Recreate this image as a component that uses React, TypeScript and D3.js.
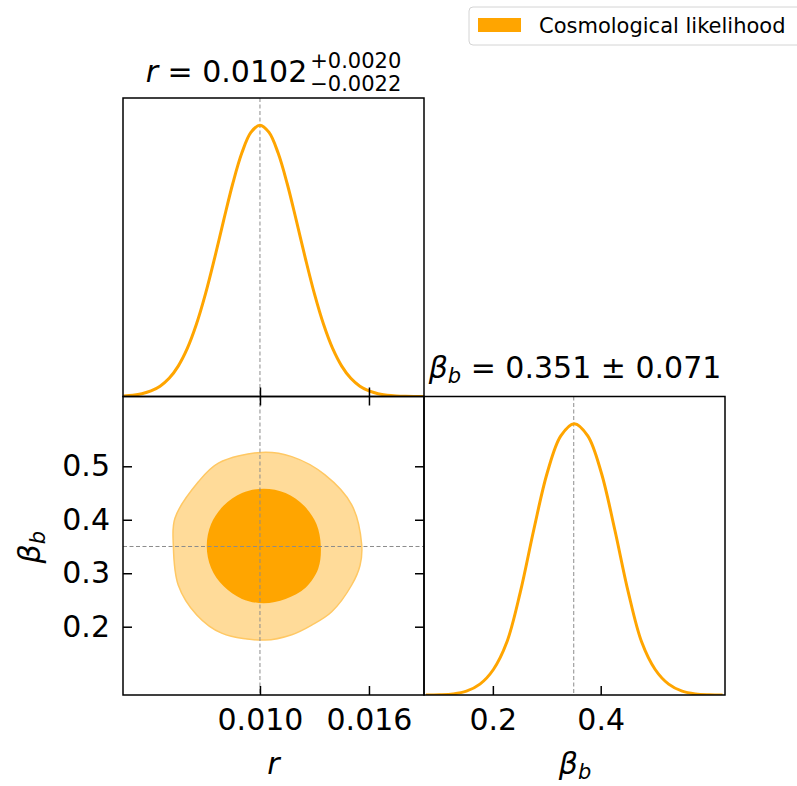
import React, { useEffect, useRef } from 'react';
import * as d3 from 'd3';

const WIDTH = 797;
const HEIGHT = 786;

// marginal of r (peak normalised to 1)
const rGrid = [0.0025, 0.0030, 0.0035, 0.0040, 0.0045, 0.0050, 0.0055, 0.0060, 0.0065, 0.0070, 0.0075,
  0.0080, 0.0085, 0.0090, 0.0095, 0.0100, 0.0105, 0.0110, 0.0115, 0.0120, 0.0125, 0.0130, 0.0135,
  0.0140, 0.0145, 0.0150, 0.0155, 0.0160, 0.0165, 0.0170, 0.0175, 0.0180, 0.0185, 0.0190];
const rDensity = [0.0023, 0.0050, 0.0104, 0.0204, 0.0379, 0.0669, 0.112, 0.177, 0.266, 0.378, 0.509,
  0.649, 0.784, 0.897, 0.973, 1.0, 0.973, 0.897, 0.784, 0.649, 0.509, 0.378, 0.266,
  0.177, 0.112, 0.0669, 0.0379, 0.0204, 0.0104, 0.0050, 0.0023, 0.0010, 0.0004, 0.0001];

// marginal of beta_b
const betaGrid = [0.076, 0.101, 0.126, 0.151, 0.176, 0.201, 0.226, 0.251, 0.276, 0.301, 0.326, 0.351,
  0.376, 0.401, 0.426, 0.451, 0.476, 0.501, 0.526, 0.551, 0.576, 0.601, 0.626];
const betaDensity = [0.0002, 0.001, 0.004, 0.014, 0.040, 0.094, 0.195, 0.38, 0.61, 0.82, 0.955, 1.0,
  0.955, 0.82, 0.61, 0.38, 0.195, 0.094, 0.040, 0.014, 0.004, 0.001, 0.0002];

// 2D contours (r, beta_b)
const inner68R = [0.01335, 0.01311, 0.01243, 0.01141, 0.01021, 0.00901, 0.00799, 0.00731,
  0.00707, 0.00731, 0.00799, 0.00901, 0.01021, 0.01141, 0.01251, 0.01321];
const inner68Beta = [0.351, 0.392, 0.426, 0.450, 0.458, 0.450, 0.426, 0.392,
  0.351, 0.310, 0.276, 0.252, 0.244, 0.252, 0.273, 0.309];
const outer95R = [0.01010, 0.01175, 0.01358, 0.01505, 0.01560, 0.01551, 0.01505, 0.01395, 0.01285,
  0.01175, 0.01028, 0.00789, 0.00652, 0.00550, 0.00523, 0.00532, 0.00661, 0.00771];
const outer95Beta = [0.526, 0.518, 0.484, 0.428, 0.353, 0.315, 0.278, 0.228, 0.203,
  0.185, 0.175, 0.188, 0.222, 0.278, 0.353, 0.403, 0.471, 0.506];

const truthR = 0.010;
const truthBeta = 0.35;

const rTicks = [0.010, 0.016];
const rTickLabels = ['0.010', '0.016'];
const betaYTicks = [0.2, 0.3, 0.4, 0.5];
const betaYTickLabels = ['0.2', '0.3', '0.4', '0.5'];
const betaXTicks = [0.2, 0.4];
const betaXTickLabels = ['0.2', '0.4'];

const rRange = [0.00246, 0.01903];
const betaRange = [0.0723, 0.6305];

const rTitle = ['0.0102', '+0.0020', '\u22120.0022'];
const betaTitle = '0.351 \u00b1 0.071';
const legendLabels = ['Cosmological likelihood'];

const CornerPlot = () => {
  const ref = useRef<SVGSVGElement>(null);

  useEffect(() => {
    const svg = d3.select(ref.current);
    svg.selectAll('*').remove();

    const font = "'DejaVu Sans', sans-serif";
    const orange = '#FFA500';
    const left = 123, top = 98, pw = 301, ph = 298.5;

    const xr = d3.scaleLinear().domain(rRange).range([0, pw]);
    const xb = d3.scaleLinear().domain(betaRange).range([0, pw]);
    const yb = d3.scaleLinear().domain(betaRange).range([ph, 0]);
    const yd = d3.scaleLinear().domain([0, 1.1]).range([ph, 0]);

    svg.append('defs').append('clipPath').attr('id', 'panel-clip')
      .append('rect').attr('width', pw).attr('height', ph);

    const panel = (x: number, y: number) => svg.append('g').attr('transform', `translate(${x},${y})`);
    const pR = panel(left, top);
    const pRB = panel(left, top + ph);
    const pB = panel(left + pw, top + ph);

    const dash = (g: any, x1: number, y1: number, x2: number, y2: number) =>
      g.append('line').attr('x1', x1).attr('y1', y1).attr('x2', x2).attr('y2', y2)
        .attr('stroke', '#8c8c8c').attr('stroke-width', 1).attr('stroke-dasharray', '4,2.5');

    // 1D marginals
    const curve = (xs: any) => d3.line<number[]>().x(d => xs(d[0])).y(d => yd(d[1]))
      .curve(d3.curveCatmullRom.alpha(0.5));
    const rPts = rGrid.map((r, i) => [r, rDensity[i]]);
    const bPts = betaGrid.map((b, i) => [b, betaDensity[i]]);
    dash(pR, xr(truthR), 0, xr(truthR), ph);
    pR.append('g').attr('clip-path', 'url(#panel-clip)').append('path')
      .attr('d', curve(xr)(rPts)).attr('fill', 'none').attr('stroke', orange).attr('stroke-width', 3);
    dash(pB, xb(truthBeta), 0, xb(truthBeta), ph);
    pB.append('g').attr('clip-path', 'url(#panel-clip)').append('path')
      .attr('d', curve(xb)(bPts)).attr('fill', 'none').attr('stroke', orange).attr('stroke-width', 3);

    // 2D contours
    const closed = d3.line().curve(d3.curveCatmullRomClosed.alpha(0.5));
    const outerPts = outer95R.map((r, i) => [xr(r), yb(outer95Beta[i])] as [number, number]);
    const innerPts = inner68R.map((r, i) => [xr(r), yb(inner68Beta[i])] as [number, number]);
    const cg = pRB.append('g').attr('clip-path', 'url(#panel-clip)');
    cg.append('path').attr('d', closed(outerPts)).attr('fill', '#FFDB99')
      .attr('stroke', '#FFC864').attr('stroke-width', 1.5);
    cg.append('path').attr('d', closed(innerPts)).attr('fill', orange);
    dash(pRB, xr(truthR), 0, xr(truthR), ph);
    dash(pRB, 0, yb(truthBeta), pw, yb(truthBeta));

    // axes, ticks pointing inwards
    const styleAxis = (g: any) => {
      g.attr('font-size', 30).attr('font-family', font);
      g.select('.domain').remove();
      g.selectAll('line').attr('stroke', '#000').attr('stroke-width', 1.5);
      g.selectAll('text').attr('fill', '#000');
    };
    const none = () => '';

    pR.append('g').attr('transform', `translate(0,${ph})`)
      .call(d3.axisBottom(xr).tickValues(rTicks).tickFormat(none).tickSizeInner(-9).tickSizeOuter(0))
      .call(styleAxis);

    pRB.append('g').attr('transform', `translate(0,${ph})`)
      .call(d3.axisBottom(xr).tickValues(rTicks).tickFormat((d, i) => rTickLabels[i])
        .tickSizeInner(-9).tickSizeOuter(0).tickPadding(14))
      .call(styleAxis);
    pRB.append('g')
      .call(d3.axisTop(xr).tickValues(rTicks).tickFormat(none).tickSizeInner(-9).tickSizeOuter(0))
      .call(styleAxis);
    pRB.append('g')
      .call(d3.axisLeft(yb).tickValues(betaYTicks).tickFormat((d, i) => betaYTickLabels[i])
        .tickSizeInner(-9).tickSizeOuter(0).tickPadding(13))
      .call(styleAxis);
    pRB.append('g').attr('transform', `translate(${pw},0)`)
      .call(d3.axisRight(yb).tickValues(betaYTicks).tickFormat(none).tickSizeInner(-9).tickSizeOuter(0))
      .call(styleAxis);

    pB.append('g').attr('transform', `translate(0,${ph})`)
      .call(d3.axisBottom(xb).tickValues(betaXTicks).tickFormat((d, i) => betaXTickLabels[i])
        .tickSizeInner(-9).tickSizeOuter(0).tickPadding(14))
      .call(styleAxis);

    [pR, pRB, pB].forEach(p => p.append('rect').attr('width', pw).attr('height', ph)
      .attr('fill', 'none').attr('stroke', '#000').attr('stroke-width', 1.5));

    // titles
    const t1 = svg.append('g').attr('font-family', font).attr('fill', '#000');
    const m1 = t1.append('text').attr('font-size', 30);
    m1.append('tspan').attr('font-style', 'italic').text('r');
    m1.append('tspan').text(` = ${rTitle[0]}`);
    const w1 = (m1.node() as SVGTextElement).getComputedTextLength();
    t1.append('text').attr('x', w1 + 3).attr('y', -14).attr('font-size', 21).text(rTitle[1]);
    t1.append('text').attr('x', w1 + 3).attr('y', 9).attr('font-size', 21).text(rTitle[2]);
    const bb1 = (t1.node() as SVGGElement).getBBox();
    t1.attr('transform', `translate(${left + pw / 2 - (bb1.x + bb1.width / 2)},${top - 16})`);

    const betaText = (g: any, size: number, rest: string) => {
      const t = g.append('text').attr('font-size', size);
      t.append('tspan').attr('font-style', 'italic').text('\u03b2');
      t.append('tspan').attr('font-style', 'italic').attr('font-size', size * 0.7).attr('dy', 5).text('b');
      if (rest) t.append('tspan').attr('dy', -5).text(rest);
      return t;
    };
    const t2 = svg.append('g').attr('font-family', font).attr('fill', '#000');
    betaText(t2, 30, ` = ${betaTitle}`);
    const bb2 = (t2.node() as SVGGElement).getBBox();
    t2.attr('transform', `translate(${left + pw * 1.5 - (bb2.x + bb2.width / 2)},${top + ph - 19})`);

    // axis labels
    svg.append('text').attr('x', left + pw / 2).attr('y', 774).attr('text-anchor', 'middle')
      .attr('font-family', font).attr('font-size', 30).attr('font-style', 'italic').text('r');
    const xl = svg.append('g').attr('font-family', font);
    betaText(xl, 30, '');
    const bb3 = (xl.node() as SVGGElement).getBBox();
    xl.attr('transform', `translate(${left + pw * 1.5 - (bb3.x + bb3.width / 2)},774)`);
    const yl = svg.append('g').attr('font-family', font);
    const ylt = betaText(yl, 30, '');
    const bb4 = (ylt.node() as SVGTextElement).getBBox();
    ylt.attr('transform', `translate(${-(bb4.x + bb4.width / 2)},0)`);
    yl.attr('transform', `translate(40,${top + ph * 1.5 + 2}) rotate(-90)`);

    // legend
    const lg = svg.append('g').attr('transform', 'translate(469,7)');
    lg.append('rect').attr('width', 345).attr('height', 38).attr('rx', 4)
      .attr('fill', '#fff').attr('stroke', '#d4d4d4').attr('stroke-width', 1);
    lg.selectAll('g.item').data(legendLabels).join('g').attr('class', 'item')
      .each(function (d) {
        const it = d3.select(this);
        it.append('rect').attr('x', 9).attr('y', 11).attr('width', 43).attr('height', 14).attr('fill', orange);
        it.append('text').attr('x', 70).attr('y', 26).attr('font-family', font).attr('font-size', 21)
          .attr('fill', '#000').text(d);
      });
  }, []);

  return (
    <svg ref={ref} width={WIDTH} height={HEIGHT}
      style={{ position: 'absolute', left: 0, top: 0, background: '#fff' }} />
  );
};

export default function App() {
  return <CornerPlot />;
}
